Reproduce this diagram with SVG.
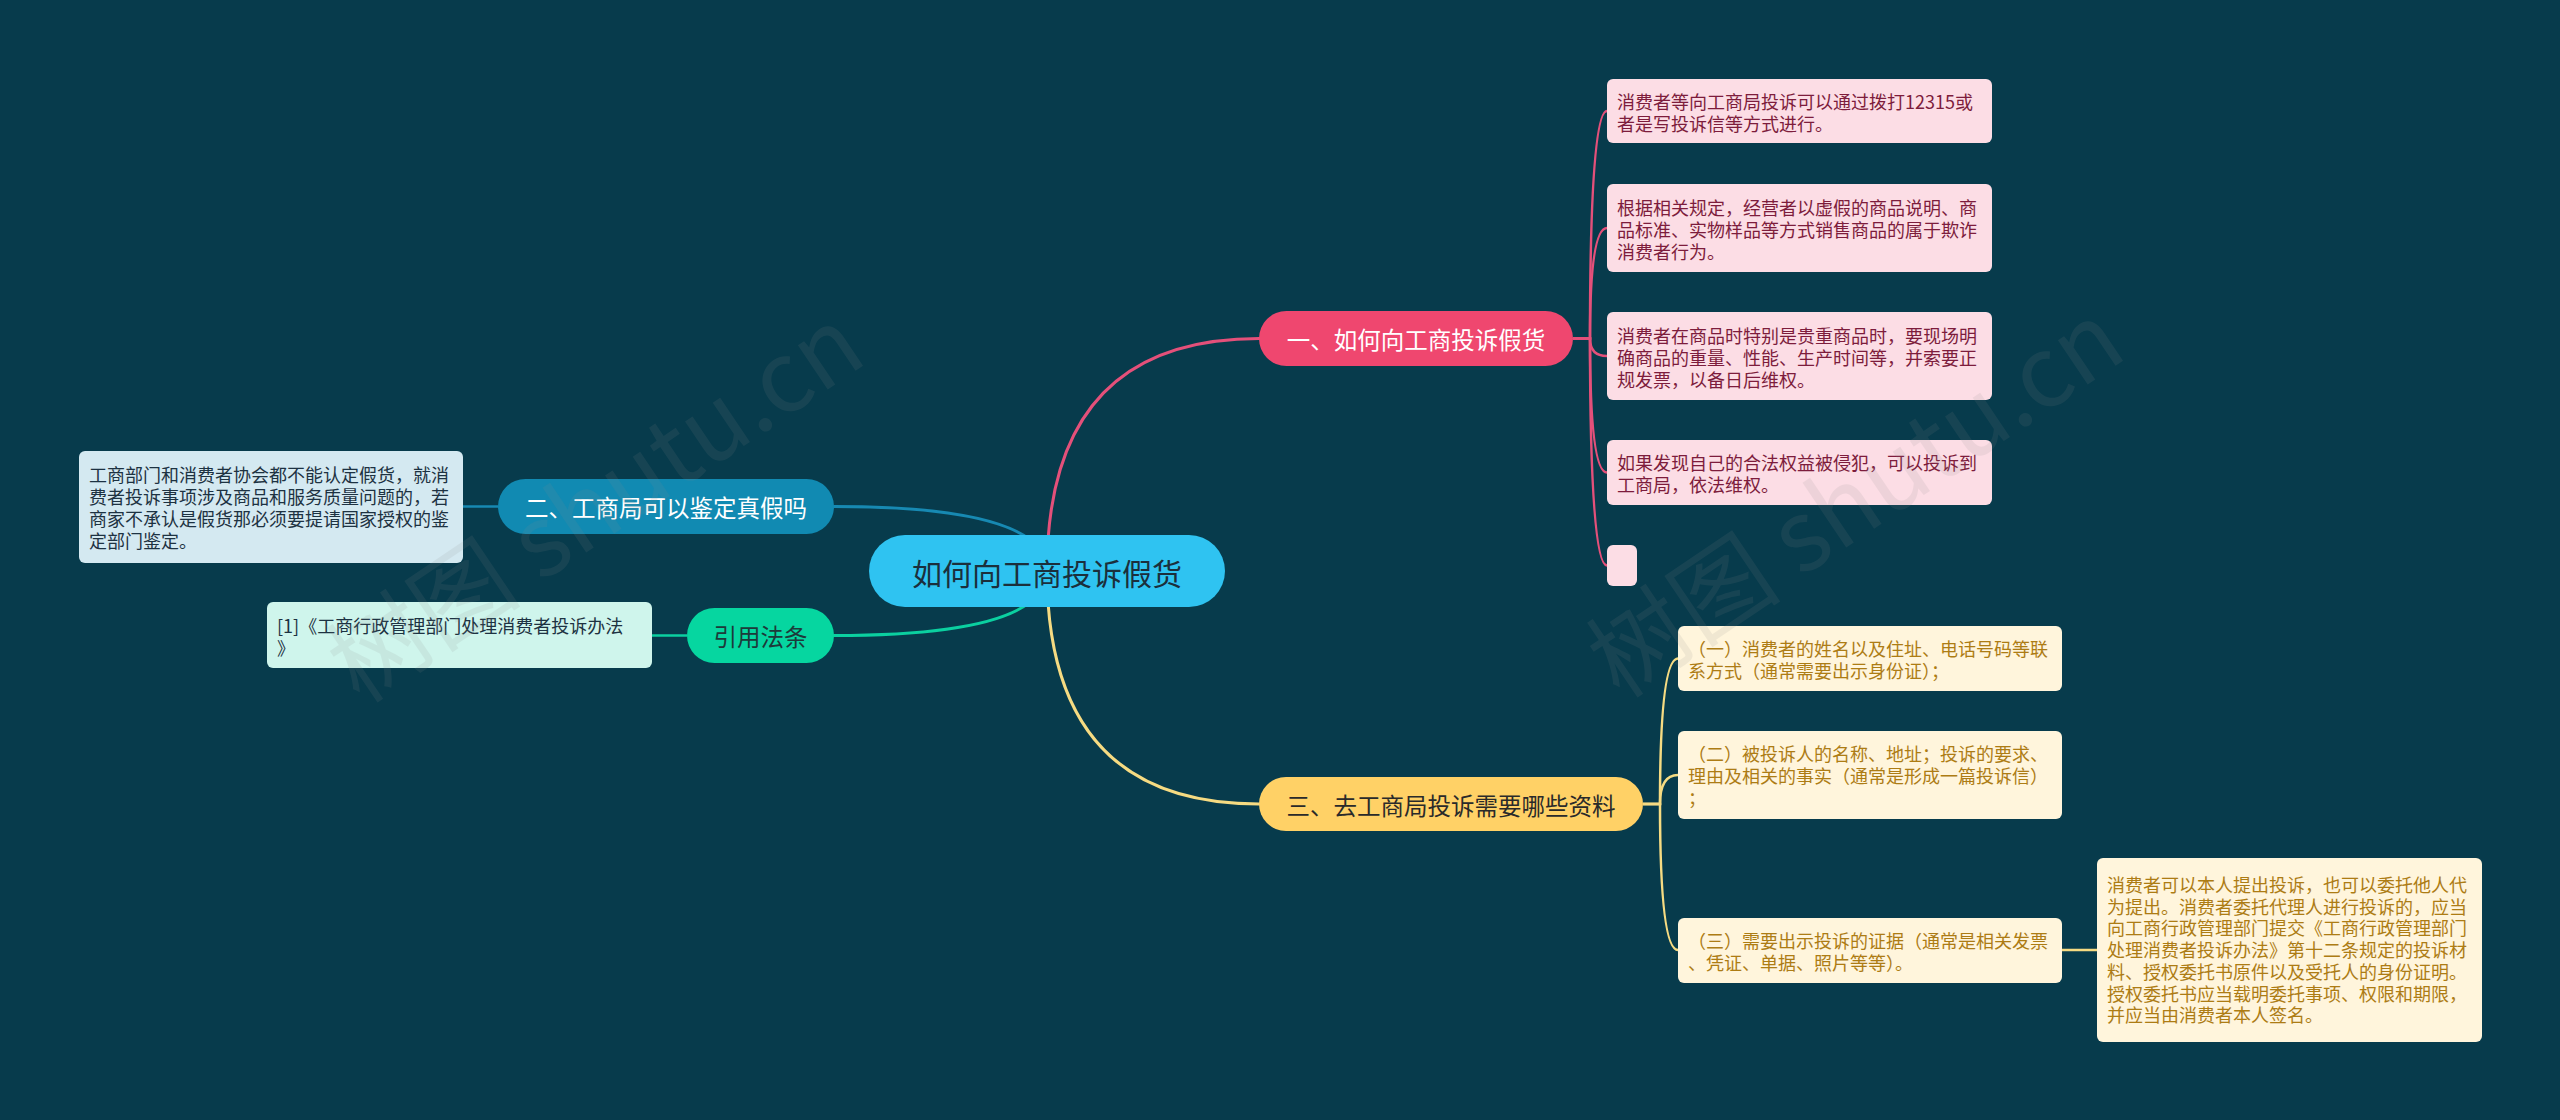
<svg xmlns="http://www.w3.org/2000/svg" width="2560" height="1120" viewBox="0 0 2560 1120">
<style>
text{font-family:"Noto Sans CJK SC","Noto Sans",sans-serif;dominant-baseline:central}
.ln{fill:none;stroke-width:3;stroke-linecap:round}
.cl{fill:none;stroke-width:2.5}
.pk{stroke:#e4507a}
.yl{stroke:#f6db82}
.bl{stroke:#1789b2}
.gr{stroke:#0bd0a0}
.t18{font-size:18px}
.pkb{fill:#fcdde5}
.pkt{fill:#7d1c3c}
.ylb{fill:#fff5dc}
.ylt{fill:#ad7c14}
.blb{fill:#d4e9f1}
.grb{fill:#cff5ec}
.dkt{fill:#1d3242}
.wm{font-size:98px;fill:#8a8a8a;opacity:0.12;font-family:"Noto Sans CJK SC","Noto Sans",sans-serif}
</style>
<rect x="0" y="0" width="2560" height="1120" fill="#073b4c"/>
<g id="connectors">
<path class="ln pk" d="M1047 571 Q1047 338.5 1259 338.5"/>
<path class="ln yl" d="M1047 571 Q1047 804 1259 804"/>
<path class="ln bl" d="M1047 571 Q1047 506.5 834 506.5"/>
<path class="ln gr" d="M1047 571 Q1047 635.5 834 635.5"/>
<path class="cl pk" d="M1573 338.5 H1590 Q1590 111 1607 111"/>
<path class="cl pk" d="M1573 338.5 H1590 Q1590 228 1607 228"/>
<path class="cl pk" d="M1573 338.5 H1590 Q1590 356 1607 356"/>
<path class="cl pk" d="M1573 338.5 H1590 Q1590 472.5 1607 472.5"/>
<path class="cl pk" d="M1573 338.5 H1590 Q1590 565.5 1607 565.5"/>
<path class="cl yl" d="M1643 804 H1660 Q1660 658.5 1678 658.5"/>
<path class="cl yl" d="M1643 804 H1660 Q1660 775 1678 775"/>
<path class="cl yl" d="M1643 804 H1660 Q1660 950 1678 950"/>
<path class="cl yl" d="M2062 950 H2097"/>
<path class="cl bl" d="M498 506.5 H463"/>
<path class="cl gr" d="M687 635.5 H652"/>
</g>
<g id="center">
<rect x="869" y="535" width="356" height="72" rx="36" fill="#2fc3f1"/>
<text x="1047" y="572" font-size="30" text-anchor="middle" fill="#1b2f3c">如何向工商投诉假货</text>
</g>
<g id="b1">
<rect x="1259" y="311" width="314" height="55" rx="27.5" fill="#ef476f"/>
<text x="1416" y="339" font-size="23.5" text-anchor="middle" fill="#ffffff">一、如何向工商投诉假货</text>
</g>
<g id="b2">
<rect x="498" y="479" width="336" height="55" rx="27.5" fill="#118ab2"/>
<text x="666" y="507" font-size="23.5" text-anchor="middle" fill="#ffffff">二、工商局可以鉴定真假吗</text>
</g>
<g id="b3">
<rect x="1259" y="777" width="384" height="54" rx="27" fill="#ffd166"/>
<text x="1451" y="805" font-size="23.5" text-anchor="middle" fill="#2a2a2a">三、去工商局投诉需要哪些资料</text>
</g>
<g id="b4">
<rect x="687" y="608" width="147" height="55" rx="27.5" fill="#06d6a0"/>
<text x="760.5" y="636" font-size="23.5" text-anchor="middle" fill="#1d3a3a">引用法条</text>
</g>
<g id="p1">
<rect class="pkb" x="1607" y="79" width="385" height="64" rx="6"/>
<text class="t18 pkt" x="1617"><tspan x="1617" y="100.5">消费者等向工商局投诉可以通过拨打12315或</tspan><tspan x="1617" y="122.5">者是写投诉信等方式进行。</tspan></text>
</g>
<g id="p2">
<rect class="pkb" x="1607" y="184" width="385" height="88" rx="6"/>
<text class="t18 pkt"><tspan x="1617" y="206.5">根据相关规定，经营者以虚假的商品说明、商</tspan><tspan x="1617" y="228.5">品标准、实物样品等方式销售商品的属于欺诈</tspan><tspan x="1617" y="250.5">消费者行为。</tspan></text>
</g>
<g id="p3">
<rect class="pkb" x="1607" y="312" width="385" height="88" rx="6"/>
<text class="t18 pkt"><tspan x="1617" y="334.5">消费者在商品时特别是贵重商品时，要现场明</tspan><tspan x="1617" y="356.5">确商品的重量、性能、生产时间等，并索要正</tspan><tspan x="1617" y="378.5">规发票，以备日后维权。</tspan></text>
</g>
<g id="p4">
<rect class="pkb" x="1607" y="440" width="385" height="65" rx="6"/>
<text class="t18 pkt"><tspan x="1617" y="462">如果发现自己的合法权益被侵犯，可以投诉到</tspan><tspan x="1617" y="484">工商局，依法维权。</tspan></text>
</g>
<g id="p5">
<rect class="pkb" x="1607" y="545" width="30" height="41" rx="6"/>
</g>
<g id="y1">
<rect class="ylb" x="1678" y="626" width="384" height="65" rx="6"/>
<text class="t18 ylt"><tspan x="1688" y="648">（一）消费者的姓名以及住址、电话号码等联</tspan><tspan x="1688" y="670">系方式（通常需要出示身份证）；</tspan></text>
</g>
<g id="y2">
<rect class="ylb" x="1678" y="731" width="384" height="88" rx="6"/>
<text class="t18 ylt"><tspan x="1688" y="753">（二）被投诉人的名称、地址；投诉的要求、</tspan><tspan x="1688" y="775">理由及相关的事实（通常是形成一篇投诉信）</tspan><tspan x="1688" y="797">；</tspan></text>
</g>
<g id="y3">
<rect class="ylb" x="1678" y="918" width="384" height="65" rx="6"/>
<text class="t18 ylt"><tspan x="1688" y="939.5">（三）需要出示投诉的证据（通常是相关发票</tspan><tspan x="1688" y="961.5">、凭证、单据、照片等等）。</tspan></text>
</g>
<g id="y4">
<rect class="ylb" x="2097" y="858" width="385" height="184" rx="6"/>
<text class="t18 ylt"><tspan x="2107" y="884">消费者可以本人提出投诉，也可以委托他人代</tspan><tspan x="2107" y="905.7">为提出。消费者委托代理人进行投诉的，应当</tspan><tspan x="2107" y="927.4">向工商行政管理部门提交《工商行政管理部门</tspan><tspan x="2107" y="949.1">处理消费者投诉办法》第十二条规定的投诉材</tspan><tspan x="2107" y="970.8">料、授权委托书原件以及受托人的身份证明。</tspan><tspan x="2107" y="992.5">授权委托书应当载明委托事项、权限和期限，</tspan><tspan x="2107" y="1014.2">并应当由消费者本人签名。</tspan></text>
</g>
<g id="l1">
<rect class="blb" x="79" y="451" width="384" height="112" rx="6"/>
<text class="t18 dkt"><tspan x="89" y="474">工商部门和消费者协会都不能认定假货，就消</tspan><tspan x="89" y="496">费者投诉事项涉及商品和服务质量问题的，若</tspan><tspan x="89" y="518">商家不承认是假货那必须要提请国家授权的鉴</tspan><tspan x="89" y="540">定部门鉴定。</tspan></text>
</g>
<g id="l2">
<rect class="grb" x="267" y="602" width="385" height="66" rx="6"/>
<text class="t18 dkt"><tspan x="277" y="624.5">[1]《工商行政管理部门处理消费者投诉办法</tspan><tspan x="277" y="646.5">》</tspan></text>
</g>
<g id="watermark">
<text class="wm" x="360" y="705" transform="rotate(-34 360 705)" style="dominant-baseline:alphabetic">树图 shutu.cn</text>
<text class="wm" x="1620" y="700" transform="rotate(-34 1620 700)" style="dominant-baseline:alphabetic">树图 shutu.cn</text>
</g>
</svg>
